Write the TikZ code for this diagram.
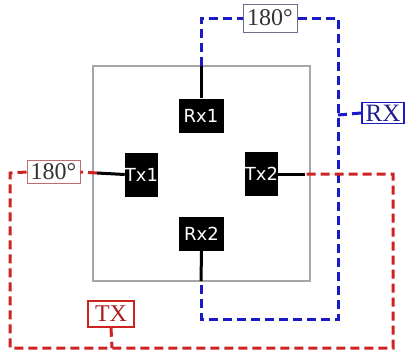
\documentclass[tikz,border=0pt]{standalone}
\usepackage{fontspec}
\setmainfont{Liberation Serif}
\newfontfamily\chipfont{DejaVu Sans}
\definecolor{myred}{RGB}{205,35,35}
\definecolor{myblue}{RGB}{25,25,200}
\definecolor{txtblue}{RGB}{30,30,140}
\definecolor{phgray}{RGB}{110,110,140}
\definecolor{phred}{RGB}{190,110,110}
\begin{document}
\begin{tikzpicture}[x=1pt,y=-1pt,
  chip/.style={fill=black,text=white,inner sep=0pt,font=\chipfont\fontsize{18}{18}\selectfont},
  rxchip/.style={chip,minimum width=45pt,minimum height=34pt},
  txchip/.style={chip,minimum width=33pt,minimum height=44pt},
  lbl/.style={fill=white,inner sep=0pt,font=\fontsize{24}{24}\selectfont},
  feed/.style={line width=3pt,black},
  bdash/.style={line width=3pt,myblue,dash pattern=on 9pt off 5pt},
  rdash/.style={line width=3pt,myred,dash pattern=on 9pt off 5pt}]
\useasboundingbox (0,0) rectangle (406,360);
% outer square
\draw[gray!70,line width=1.3pt] (93,66) rectangle (310,281);
% chips
\node[rxchip] (rx1) at (201,115.5) {Rx1};
\node[rxchip] (rx2) at (201.5,234) {Rx2};
\node[txchip] (tx1) at (141.5,174.5) {Tx1};
\node[txchip] (tx2) at (261.5,174) {Tx2};
% coordinates
\coordinate (bt) at (201,66);
\coordinate (bb) at (201,281);
\coordinate (btl) at (201,18);
\coordinate (btr) at (338,18);
\coordinate (brx) at (338,115);
\coordinate (bbr) at (338,319);
\coordinate (bbl) at (201,319);
\coordinate (rl) at (97,173);
\coordinate (rr) at (305,174);
\coordinate (rtl) at (10,173);
\coordinate (rbl) at (10,348);
\coordinate (rbr) at (393,348);
\coordinate (rtr) at (393,174);
\coordinate (rtx) at (112,348);
% label boxes
\node[lbl,draw=phgray,line width=1pt,text=black!80,minimum width=54pt,minimum height=28pt] (ph1) at (270,18) {180\textdegree};
\node[lbl,draw=phred,line width=1pt,text=black!80,minimum width=53pt,minimum height=23pt] (ph2) at (53.5,172) {180\textdegree};
\node[lbl,draw=myblue,line width=1.8pt,text=txtblue,minimum width=42pt,minimum height=21pt,font=\fontsize{25}{25}\selectfont] (rx) at (383,113) {RX};
\node[lbl,draw=myred,line width=1.5pt,text=myred!85!black,minimum width=46pt,minimum height=26pt] (tx) at (111,314) {TX};
% black feeds
\draw[feed] (rx1.north) -- (bt);
\draw[feed] (rx2.south) -- (bb);
\draw[feed] (tx1.west) -- (rl);
\draw[feed] (tx2.east) -- (rr);
% blue (RX) network
\draw[bdash] (bt) -- (btl) -- (ph1.west);
\draw[bdash] (ph1.east) -- (btr) -- (bbr) -- (bbl) -- (bb);
\draw[bdash] (brx) -- (rx.west);
% red (TX) network
\draw[rdash] (rl) -- (ph2.east);
\draw[rdash] (ph2.west) -- (rtl) -- (rbl) -- (rbr) -- (rtr) -- (rr);
\draw[rdash] (tx.south) -- (rtx);
\end{tikzpicture}
\end{document}
